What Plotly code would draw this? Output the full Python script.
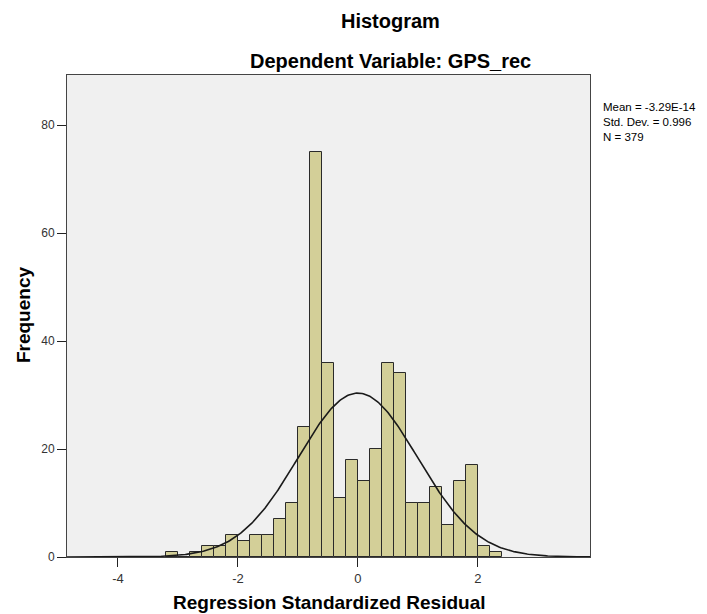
import numpy as np
import plotly.graph_objects as go

# ---- data ----
bin_starts = [-3.2, -3.0, -2.8, -2.6, -2.4, -2.2, -2.0, -1.8, -1.6, -1.4, -1.2, -1.0,
              -0.8, -0.6, -0.4, -0.2, 0.0, 0.2, 0.4, 0.6, 0.8, 1.0, 1.2, 1.4, 1.6,
              1.8, 2.0, 2.2]
counts = [1, 0, 1, 2, 2, 4, 3, 4, 4, 7, 10, 24,
          75, 36, 11, 18, 14, 20, 36, 34, 10, 10, 13, 6, 14,
          17, 2, 1]
bin_width = 0.2
mean_val = -3.29e-14
sd_val = 0.996
n_val = 379
x_ticks = [-4, -2, 0, 2]
x_tick_labels = ["-4", "-2", "0", "2"]
y_ticks = [0, 20, 40, 60, 80]
y_tick_labels = ["0", "20", "40", "60", "80"]
stats_lines = ["Mean = -3.29E-14", "Std. Dev. = 0.996", "N = 379"]

x_range = [-4.85, 3.87]
y_range = [0, 89.3]

centers = [s + bin_width / 2 for s in bin_starts]

xc = np.linspace(x_range[0], x_range[1], 400)
yc = n_val * bin_width * np.exp(-0.5 * ((xc - mean_val) / sd_val) ** 2) / (sd_val * np.sqrt(2 * np.pi))

fig = go.Figure()
fig.add_trace(go.Bar(
    x=centers, y=counts, width=bin_width,
    marker=dict(color="#D3CF98", line=dict(color="#2a2a2a", width=1)),
    showlegend=False, hoverinfo="x+y"))
fig.add_trace(go.Scatter(
    x=xc, y=yc, mode="lines", line=dict(color="#1a1a1a", width=1.6),
    showlegend=False, hoverinfo="skip"))

font_family = "Liberation Sans, Arial, sans-serif"

fig.update_layout(
    width=699, height=606,
    margin=dict(l=59, r=117, t=67, b=57),
    paper_bgcolor="white",
    plot_bgcolor="#F0F0F0",
    font=dict(family=font_family, size=12, color="#000"),
    bargap=0,
    xaxis=dict(range=x_range, tickvals=x_ticks, ticktext=x_tick_labels,
               ticks="outside", ticklen=9,
               tickcolor="#222", showgrid=False, zeroline=False,
               showline=True, linecolor="#444", linewidth=1, mirror=True,
               tickfont=dict(size=13, color="#333")),
    yaxis=dict(range=y_range, tickvals=y_ticks, ticktext=y_tick_labels,
               ticks="outside", ticklen=9,
               tickcolor="#222", showgrid=False, zeroline=False,
               showline=True, linecolor="#444", linewidth=1, mirror=True,
               tickfont=dict(size=12, color="#333")),
)

ann = []
ann.append(dict(text="<b>Histogram</b>", x=0.6176, y=1.112, xref="paper", yref="paper",
                showarrow=False, font=dict(size=20, family=font_family), xanchor="center", yanchor="middle"))
ann.append(dict(text="<b>Dependent Variable: GPS_rec</b>", x=0.6176, y=1.029, xref="paper", yref="paper",
                showarrow=False, font=dict(size=20, family=font_family), xanchor="center", yanchor="middle"))
ann.append(dict(text="<b>Regression Standardized Residual</b>", x=0.501, y=-0.0954, xref="paper", yref="paper",
                showarrow=False, font=dict(size=19, family=font_family), xanchor="center", yanchor="middle"))
ann.append(dict(text="<b>Frequency</b>", x=-0.0841, y=0.502, xref="paper", yref="paper", textangle=-90,
                showarrow=False, font=dict(size=19, family=font_family), xanchor="center", yanchor="middle"))
ann.append(dict(text="<br>".join(stats_lines), x=1.021, y=0.9015, xref="paper", yref="paper",
                showarrow=False, align="left", font=dict(size=11.5, family=font_family),
                xanchor="left", yanchor="middle"))
fig.update_layout(annotations=ann)

fig.write_html("out.html")
